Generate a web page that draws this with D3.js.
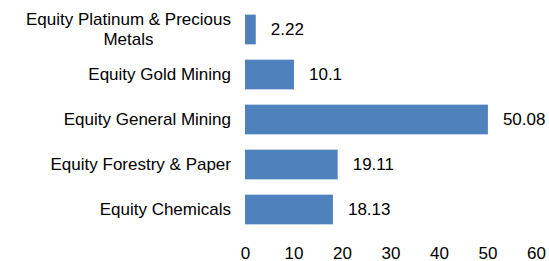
<!DOCTYPE html>
<html>
<head>
<meta charset="utf-8">
<script src="https://cdn.jsdelivr.net/npm/d3@7"></script>
<style>
  body { margin: 0; background: #fff; }
  text { font-family: "Liberation Sans", Arial, sans-serif; fill: #000; }
</style>
</head>
<body>
<svg width="549" height="261"></svg>
<script>
// Chart data
const categories = [
    ["Equity Platinum & Precious", "Metals"],
    ["Equity Gold Mining"],
    ["Equity General Mining"],
    ["Equity Forestry & Paper"],
    ["Equity Chemicals"]
];
const values = [2.22, 10.1, 50.08, 19.11, 18.13];
const valueLabels = ["2.22", "10.1", "50.08", "19.11", "18.13"];
const xTicks = [0, 10, 20, 30, 40, 50, 60];

const svg = d3.select("svg");
const fontSize = 17;

let x = d3.scaleLinear()
    .domain([0, 60])
    .range([245, 536]);

let y = d3.scaleBand()
    .domain(d3.range(categories.length))
    .range([7, 232])
    .paddingInner(0.34)
    .paddingOuter(0.17);

// bars
svg.selectAll(".bar")
    .data(values)
    .enter()
    .append("rect")
    .attr("class", "bar")
    .attr("x", x(0))
    .attr("y", (d, i) => y(i))
    .attr("width", d => x(d) - x(0))
    .attr("height", y.bandwidth())
    .attr("fill", "#4F81BD");

// value labels
svg.selectAll(".val")
    .data(values)
    .enter()
    .append("text")
    .attr("class", "val")
    .attr("x", d => x(d) + 15)
    .attr("y", (d, i) => y(i) + y.bandwidth() / 2)
    .attr("dy", "0.35em")
    .attr("font-size", fontSize)
    .text((d, i) => valueLabels[i]);

// category labels, multi-line ones centred on each other
const labelRight = 231;
const lineH = 20;
categories.forEach((lines, i) => {
    let cy = y(i) + y.bandwidth() / 2;
    let top = cy - (lines.length - 1) * lineH / 2;
    let g = svg.append("g");
    let first = g.append("text")
        .attr("x", labelRight)
        .attr("y", top)
        .attr("dy", "0.35em")
        .attr("font-size", fontSize)
        .attr("text-anchor", "end")
        .text(lines[0]);
    let w = first.node().getComputedTextLength();
    for (let k = 1; k < lines.length; k++) {
        g.append("text")
            .attr("x", labelRight - w / 2)
            .attr("y", top + k * lineH)
            .attr("dy", "0.35em")
            .attr("font-size", fontSize)
            .attr("text-anchor", "middle")
            .text(lines[k]);
    }
});

// x axis (labels only)
let xAxis = d3.axisBottom(x)
    .tickValues(xTicks)
    .tickSize(0)
    .tickPadding(0);

let ax = svg.append("g")
    .attr("transform", "translate(0,247)")
    .call(xAxis);
ax.select(".domain").remove();
ax.selectAll("text")
    .attr("font-size", fontSize)
    .attr("font-family", null)
    .attr("fill", "#000");
</script>
</body>
</html>
